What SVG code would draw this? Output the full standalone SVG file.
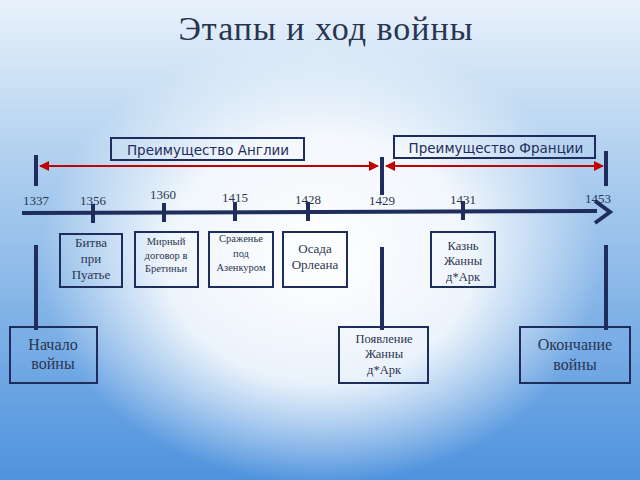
<svg xmlns="http://www.w3.org/2000/svg" width="640" height="480" viewBox="0 0 640 480">
<defs>
<linearGradient id="bg" x1="0" y1="0" x2="0" y2="1"><stop offset="0" stop-color="#e9f2fb"/><stop offset="0.3" stop-color="#b5d3f0"/><stop offset="1" stop-color="#4f93de"/></linearGradient>
<radialGradient id="glow" cx="320" cy="260" r="280" gradientUnits="userSpaceOnUse" gradientTransform="translate(320 260) scale(1 0.8) translate(-320 -260)"><stop offset="0" stop-color="#ffffff" stop-opacity="1"/><stop offset="0.55" stop-color="#ffffff" stop-opacity="0.85"/><stop offset="1" stop-color="#ffffff" stop-opacity="0"/></radialGradient>
<marker id="ra" viewBox="0 0 10 10" refX="9" refY="5" markerWidth="5" markerHeight="5" orient="auto-start-reverse"><path d="M0,0 L10,5 L0,10 z" fill="#c00000"/></marker>
</defs>
<style>
.bar{stroke:#1f2d5c;stroke-width:4;fill:none}
.box{fill:none;stroke:#1f2d5c;stroke-width:2}
.red{stroke:#c00000;stroke-width:2;fill:none}
.s{font-family:"Liberation Serif",serif;fill:#2a3550;text-anchor:middle}
.g{font-family:"DejaVu Sans","Noto Sans",sans-serif;fill:#1f2d5c;text-anchor:middle;font-size:13.5px}
</style>
<rect width="640" height="480" fill="url(#bg)"/>
<rect width="640" height="480" fill="url(#glow)"/>
<text x="326" y="40" class="s" font-size="34" letter-spacing="1">Этапы и ход войны</text>
<g id="connectors">
<line class="bar" x1="36" y1="155" x2="36" y2="186"/>
<line class="bar" x1="36" y1="245" x2="36" y2="330"/>
<line class="bar" x1="382" y1="157" x2="382" y2="195"/>
<line class="bar" x1="382" y1="247" x2="382" y2="330"/>
<line class="bar" x1="606" y1="151" x2="606" y2="186"/>
<line class="bar" x1="606" y1="245" x2="606" y2="330"/>
<line class="bar" x1="22" y1="213" x2="597" y2="211" stroke-width="5"/>
<path class="bar" d="M595,201 L610,212 L595,223" stroke-width="4"/>
<line class="bar" x1="93" y1="204" x2="93" y2="223"/>
<line class="bar" x1="164" y1="203" x2="164" y2="222"/>
<line class="bar" x1="235" y1="202" x2="235" y2="221"/>
<line class="bar" x1="308" y1="202" x2="308" y2="221"/>
<line class="bar" x1="463" y1="201" x2="463" y2="220"/>
<line class="red" x1="40" y1="166" x2="378" y2="166" marker-start="url(#ra)" marker-end="url(#ra)"/>
<line class="red" x1="386" y1="166" x2="603" y2="166" marker-start="url(#ra)" marker-end="url(#ra)"/>
</g>
<g id="years" font-size="13">
<text x="36" y="205" class="s" font-size="13">1337</text><text x="93" y="205" class="s" font-size="13">1356</text><text x="163" y="199" class="s" font-size="13">1360</text><text x="235" y="202" class="s" font-size="13">1415</text><text x="308" y="204" class="s" font-size="13">1428</text><text x="382" y="205" class="s" font-size="13">1429</text><text x="463" y="204" class="s" font-size="13">1431</text><text x="598" y="203" class="s" font-size="13">1453</text>
</g>
<g id="england"><rect class="box" x="111" y="138" width="193" height="22"/><text x="208" y="155" class="g">Преимущество Англии</text></g>
<g id="france"><rect class="box" x="394" y="136" width="201" height="22"/><text x="496" y="153" class="g">Преимущество Франции</text></g>
<g id="n1356"><rect class="box" x="60" y="234" width="62" height="53"/><text class="s" font-size="13"><tspan x="91" y="247">Битва</tspan><tspan x="91" y="263">при</tspan><tspan x="91" y="279">Пуатье</tspan></text></g>
<g id="n1360"><rect class="box" x="135" y="232" width="63" height="55"/><text class="s" font-size="10.5"><tspan x="166" y="245">Мирный</tspan><tspan x="166" y="259">договор в</tspan><tspan x="166" y="272">Бретиньи</tspan></text></g>
<g id="n1415"><rect class="box" x="209" y="232" width="64" height="55"/><text class="s" font-size="10.5"><tspan x="241" y="242">Сраженье</tspan><tspan x="241" y="257">под</tspan><tspan x="241" y="271">Азенкуром</tspan></text></g>
<g id="n1428"><rect class="box" x="283" y="232" width="64" height="55"/><text class="s" font-size="13"><tspan x="315" y="253">Осада</tspan><tspan x="315" y="269">Орлеана</tspan></text></g>
<g id="n1431"><rect class="box" x="431" y="232" width="64" height="55"/><text class="s" font-size="12.5"><tspan x="463" y="250">Казнь</tspan><tspan x="463" y="265">Жанны</tspan><tspan x="463" y="281">д*Арк</tspan></text></g>
<g id="start"><rect class="box" x="10" y="327" width="87" height="56"/><text class="s" font-size="16"><tspan x="53" y="350">Начало</tspan><tspan x="53" y="369">войны</tspan></text></g>
<g id="joan"><rect class="box" x="339" y="327" width="89" height="56"/><text class="s" font-size="12.5"><tspan x="384" y="343">Появление</tspan><tspan x="384" y="358">Жанны</tspan><tspan x="384" y="374">д*Арк</tspan></text></g>
<g id="end"><rect class="box" x="520" y="327" width="110" height="56"/><text class="s" font-size="16"><tspan x="575" y="350">Окончание</tspan><tspan x="575" y="370">войны</tspan></text></g>
</svg>
